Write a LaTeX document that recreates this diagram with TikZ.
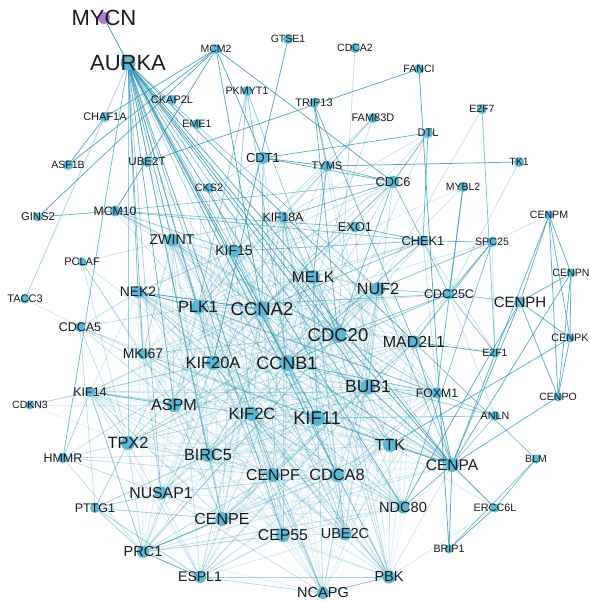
\documentclass[tikz,border=0pt]{standalone}
\usepackage{fontspec}
\setmainfont{Liberation Sans}
\usetikzlibrary{backgrounds}
\definecolor{nc}{RGB}{88,184,216}
\definecolor{ec}{RGB}{40,148,178}
\definecolor{tc}{RGB}{25,25,25}
\definecolor{pc}{RGB}{175,125,215}
\tikzset{
  dot/.style={circle,fill=nc,inner sep=0pt,minimum size=#1pt},
  lab/.style={font=\fontsize{#1}{#1}\selectfont,text=tc,inner sep=0pt},
  e/.style={draw=ec,line width=0.75pt}
}
\newcommand\G[6]{\node[dot=#4] (#1) at (#2,#3) {}; \node[lab=#5] (#1-l) at (#2,#3) {#6};}
\newcommand\Lk[3]{\foreach \bb in {#2}{\draw[e,draw opacity=#3] (#1.center)--(\bb.center);}}
\def\core{PLK1,CCNA2,CCNB1,CDC20,KIF11,BUB1,KIF2C,KIF20A,MAD2L1,NUF2,TTK,MELK,CDCA8,CENPF,CEP55,UBE2C,NDC80,BIRC5,TPX2,ASPM,NUSAP1,CENPE,PBK,NCAPG,CENPA,PRC1,ZWINT,KIF15,NEK2,MKI67,FOXM1,KIF18A,ESPL1,KIF14}
\begin{document}
\begin{tikzpicture}[x=1pt,y=-1pt]
\useasboundingbox (0,0) rectangle (589,601);
\pgfmathsetseed{11}
\node[circle,fill=pc,inner sep=0pt,minimum size=12pt] (MYCN) at (104,18) {};
\node[lab=22] (MYCN-l) at (104,18) {MYCN};
\G{AURKA}{128}{63}{15}{22}{AURKA}
\G{MCM2}{216}{49}{10}{10.5}{MCM2}
\G{GTSE1}{288}{39}{10}{10.5}{GTSE1}
\G{CDCA2}{355}{48}{10}{10.5}{CDCA2}
\G{FANCI}{419}{69}{10}{10.6}{FANCI}
\G{E2F7}{482}{109}{10}{10.5}{E2F7}
\G{CKAP2L}{172}{100}{10}{11}{CKAP2L}
\G{PKMYT1}{247}{91}{10}{10.7}{PKMYT1}
\G{TRIP13}{314}{103}{10}{11}{TRIP13}
\G{FAM83D}{373}{118}{10}{11}{FAM83D}
\G{CHAF1A}{105}{117}{10}{11}{CHAF1A}
\G{EME1}{197}{124}{10}{10.7}{EME1}
\G{DTL}{428}{133}{10}{11}{DTL}
\G{ASF1B}{68}{165}{10}{10.5}{ASF1B}
\G{UBE2T}{147}{162}{10}{11.5}{UBE2T}
\G{CDT1}{263}{158}{12}{13}{CDT1}
\G{TYMS}{327}{166}{11}{11}{TYMS}
\G{TK1}{519}{162}{10}{10.5}{TK1}
\G{CDC6}{393}{182}{12}{12.8}{CDC6}
\G{MYBL2}{463}{187}{10}{10.5}{MYBL2}
\G{CKS2}{209}{188}{10}{10.8}{CKS2}
\G{GINS2}{38}{217}{9}{11.3}{GINS2}
\G{MCM10}{115}{211}{11}{12.2}{MCM10}
\G{KIF18A}{283}{217}{11}{12.2}{KIF18A}
\G{EXO1}{355}{227}{11}{12.8}{EXO1}
\G{CENPM}{549}{215}{9}{10.6}{CENPM}
\G{CHEK1}{423}{241}{11}{12.8}{CHEK1}
\G{SPC25}{492}{242}{10}{10.7}{SPC25}
\G{ZWINT}{172}{240}{13}{14.2}{ZWINT}
\G{KIF15}{234}{251}{13}{14}{KIF15}
\G{PCLAF}{82}{262}{9}{11}{PCLAF}
\G{MELK}{313}{277}{14}{15.5}{MELK}
\G{CENPN}{571}{273}{9}{10.6}{CENPN}
\G{NEK2}{138}{292}{12}{13.8}{NEK2}
\G{NUF2}{378}{289}{14}{16.2}{NUF2}
\G{CDC25C}{449}{294}{11}{12.5}{CDC25C}
\G{CENPH}{520}{302}{11}{15}{CENPH}
\G{TACC3}{25}{299}{9}{11}{TACC3}
\G{PLK1}{198}{307}{14}{16.3}{PLK1}
\G{CCNA2}{262}{309}{16}{18.5}{CCNA2}
\G{CDCA5}{80}{327}{10}{12.5}{CDCA5}
\G{CDC20}{338}{335}{16}{18.5}{CDC20}
\G{MAD2L1}{414}{342}{13}{16}{MAD2L1}
\G{CENPK}{570}{338}{9}{10.8}{CENPK}
\G{MKI67}{143}{354}{11}{14}{MKI67}
\G{KIF20A}{213}{363}{14}{16.4}{KIF20A}
\G{CCNB1}{287}{363}{16}{18}{CCNB1}
\G{E2F1}{495}{353}{9}{10.5}{E2F1}
\G{CDKN3}{30}{405}{9}{10.5}{CDKN3}
\G{KIF14}{90}{392}{10}{12.5}{KIF14}
\G{BUB1}{368}{387}{15}{17.5}{BUB1}
\G{FOXM1}{437}{393}{11}{12.3}{FOXM1}
\G{CENPO}{558}{397}{9}{10.5}{CENPO}
\G{ASPM}{174}{405}{14}{16.2}{ASPM}
\G{KIF2C}{252}{414}{14}{16.5}{KIF2C}
\G{KIF11}{317}{418}{16}{18.3}{KIF11}
\G{ANLN}{495}{416}{10}{10.7}{ANLN}
\G{HMMR}{63}{458}{10}{12.5}{HMMR}
\G{TPX2}{128}{443}{14}{16.3}{TPX2}
\G{BIRC5}{208}{455}{14}{16.2}{BIRC5}
\G{TTK}{390}{445}{14}{16}{TTK}
\G{CENPA}{452}{465}{14}{15.5}{CENPA}
\G{BLM}{536}{459}{9}{10.5}{BLM}
\G{CENPF}{273}{475}{14}{15.8}{CENPF}
\G{CDCA8}{337}{475}{14}{16.3}{CDCA8}
\G{NUSAP1}{161}{493}{13}{15.8}{NUSAP1}
\G{PTTG1}{95}{508}{10}{12.5}{PTTG1}
\G{CENPE}{222}{519}{14}{16}{CENPE}
\G{NDC80}{403}{507}{13}{14.6}{NDC80}
\G{ERCC6L}{495}{508}{9}{10.8}{ERCC6L}
\G{CEP55}{283}{535}{14}{15.8}{CEP55}
\G{UBE2C}{345}{534}{13}{14.5}{UBE2C}
\G{PRC1}{143}{552}{12}{14.5}{PRC1}
\G{BRIP1}{449}{549}{9}{10.7}{BRIP1}
\G{ESPL1}{200}{577}{12}{14}{ESPL1}
\G{NCAPG}{323}{593}{12}{14.5}{NCAPG}
\G{PBK}{389}{577}{13}{14.5}{PBK}
\begin{scope}[on background layer]
\foreach \a [count=\i] in \core {
  \foreach \b [count=\j] in \core {
    \ifnum\j>\i
      \pgfmathsetmacro\r{rnd}
      \ifdim\r pt<0.72pt
        \pgfmathsetmacro\op{0.06+0.36*rnd^1.5}
        \draw[e,draw opacity=\op] (\a.center)--(\b.center);
      \fi
    \fi
  }
}
\Lk{MYCN}{AURKA}{0.9}
\foreach \b in {TACC3,HMMR,TPX2,PLK1,CCNA2,CCNB1,CDC20,BUB1,KIF11,KIF2C,KIF20A,BIRC5,ASPM,NEK2,ZWINT,KIF15,MELK,NUF2,MAD2L1,TTK,CENPA,CENPE,CENPF,CDCA8,NUSAP1,MKI67,UBE2C,CEP55,NDC80,PBK}{
  \pgfmathsetmacro\op{0.4+0.45*rnd}
  \draw[e,draw opacity=\op] (AURKA.center)--(\b.center);}
\Lk{MCM2}{ASF1B,GINS2,MCM10,CDT1,CDC6,CCNA2,CHAF1A}{0.8}
\Lk{CHAF1A}{ASF1B}{0.8}
\Lk{GINS2}{MCM10}{0.7}
\Lk{MCM10}{CDC6,CHEK1,EXO1,ZWINT,KIF15}{0.55}
\Lk{MCM10}{PLK1,CCNA2,CDC20}{0.25}
\Lk{FANCI}{UBE2T,BRIP1}{0.8}
\Lk{GTSE1}{KIF20A}{0.8}
\Lk{CDCA2}{CDC20}{0.3}
\Lk{E2F7}{E2F1}{0.6}
\Lk{E2F7}{NUF2}{0.25}
\Lk{TK1}{TYMS}{0.8}
\Lk{TK1}{CDC25C}{0.3}
\Lk{CDT1}{TYMS,DTL,CDC6,CCNA2}{0.75}
\Lk{CDT1}{CCNB1,PLK1,CKS2}{0.3}
\Lk{PKMYT1}{PLK1,CCNB1,KIF15,CDC20}{0.5}
\Lk{TRIP13}{CDC20,MAD2L1,TYMS}{0.7}
\Lk{TRIP13}{TTK,BUB1}{0.25}
\Lk{FAM83D}{KIF15,PLK1,CCNB1,KIF18A}{0.3}
\Lk{DTL}{CHEK1,CDC6}{0.7}
\Lk{DTL}{CCNA2,KIF18A,CDC20}{0.25}
\Lk{TYMS}{CDC6,MELK}{0.7}
\Lk{TYMS}{CCNA2,CCNB1,KIF15}{0.25}
\Lk{CDC6}{CHEK1,CCNA2,CDC20,KIF18A}{0.65}
\Lk{CDC6}{KIF15,PLK1,BUB1,CCNB1,EXO1}{0.3}
\Lk{EXO1}{CHEK1}{0.7}
\Lk{EXO1}{CCNA2,BUB1,CCNB1,KIF15}{0.3}
\Lk{CHEK1}{SPC25,CDC25C,KIF15,CCNA2,CCNB1}{0.6}
\Lk{CHEK1}{CDC20,E2F1,FOXM1,PLK1,MELK}{0.3}
\Lk{SPC25}{NUF2,NDC80,CDC25C,MAD2L1}{0.6}
\Lk{SPC25}{CENPM,CCNA2,E2F1,BUB1}{0.25}
\Lk{MYBL2}{CDC25C,FOXM1}{0.7}
\Lk{MYBL2}{CCNB1,PLK1}{0.2}
\Lk{CDC25C}{CENPH,E2F1,CCNB1,CDC20,PLK1,NUF2}{0.55}
\Lk{CDC25C}{MAD2L1,ANLN,CCNA2}{0.25}
\Lk{CENPM}{CENPN,CENPK,CENPO,CENPH,CENPA}{0.75}
\Lk{CENPN}{CENPK,CENPO,CENPH,CENPA}{0.75}
\Lk{CENPK}{CENPO,CENPH,TTK}{0.75}
\Lk{CENPH}{CENPO,CENPA,NDC80}{0.75}
\Lk{CENPO}{CENPA}{0.75}
\Lk{E2F1}{MAD2L1}{0.8}
\Lk{E2F1}{CCNA2}{0.2}
\Lk{FOXM1}{ANLN,CENPA,BUB1,CCNB1,PLK1}{0.55}
\Lk{ANLN}{CENPA,KIF11,CCNB1}{0.5}
\Lk{BLM}{ERCC6L,BRIP1,MAD2L1}{0.6}
\Lk{ERCC6L}{CENPA,BRIP1}{0.7}
\Lk{ERCC6L}{PBK,TTK,BUB1}{0.2}
\Lk{BRIP1}{CENPA}{0.8}
\Lk{CENPA}{TTK,NDC80,BUB1,CDC20,CCNB1,KIF11,MAD2L1,NUF2}{0.55}
\Lk{TACC3}{CDCA5}{0.2}
\Lk{PCLAF}{MKI67,ASPM,KIF20A,ZWINT,TPX2}{0.25}
\Lk{CDCA5}{MKI67,NEK2,PLK1,ASPM,TPX2,PTTG1,CDCA8,KIF11}{0.3}
\Lk{KIF14}{CDKN3,TPX2,PRC1,ASPM,KIF20A,HMMR}{0.45}
\Lk{CDKN3}{TPX2,ASPM}{0.15}
\Lk{HMMR}{TPX2,KIF20A,BIRC5,CENPF,NUSAP1,PRC1}{0.3}
\Lk{PTTG1}{ESPL1,PRC1,TPX2,NUSAP1,CENPE,BIRC5}{0.45}
\Lk{PRC1}{ESPL1,CENPE}{0.65}
\Lk{ESPL1}{NCAPG,PBK,CEP55}{0.35}
\Lk{NCAPG}{PBK}{0.45}
\Lk{UBE2T}{CCNB1,PLK1}{0.25}
\Lk{CKS2}{CCNB1,CDC20,CCNA2,KIF20A}{0.3}
\Lk{EME1}{CCNA2,BIRC5}{0.2}
\Lk{CKAP2L}{KIF20A,CENPF}{0.2}
\Lk{NEK2}{PLK1,CCNA2}{0.8}
\end{scope}
\end{tikzpicture}
\end{document}
